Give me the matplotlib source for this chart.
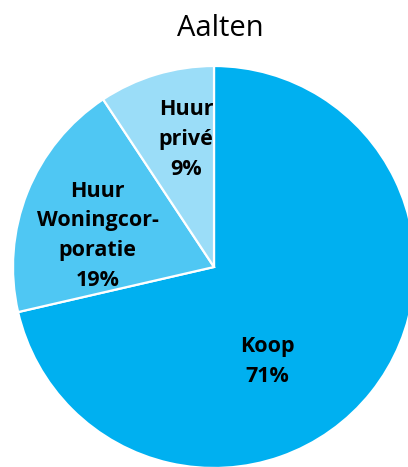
#!/usr/bin/env python3

import math
from matplotlib import pyplot as plt

# Woningvoorraad naar eigendom, gemeente Aalten (aandeel in %)
title = 'Aalten'
categories = ['Koop', 'Huur\nWoningcor-\nporatie', 'Huur\nprivé']
shares = [71.4, 19.3, 9.3]
colors = ['#00b0f0', '#4fc7f3', '#9bddf8']

# where each label sits: angle (deg) and fraction of the radius
label_pos = [(-60.4, 0.54), (165.0, 0.60), (102.4, 0.65)]

fig = plt.figure(figsize=(4.08, 4.67), dpi=100)
ax = fig.add_axes([0, 0, 1, 1])

cx, cy, r = 214, 200, 201
ax.pie(shares, colors=colors, startangle=90, counterclock=False,
       center=(cx, cy), radius=r, frame=False,
       wedgeprops=dict(edgecolor='white', linewidth=1.6))

for cat, val, (ang, dist) in zip(categories, shares, label_pos):
    x = cx + dist * r * math.cos(math.radians(ang))
    y = cy + dist * r * math.sin(math.radians(ang))
    ax.text(x, y, '%s\n%d%%' % (cat, round(val)), ha='center', va='center',
            fontsize=15.5, fontweight='bold', family='Open Sans',
            linespacing=1.55, color='black')

fig.text(0.54, 0.94, title, ha='center', va='center', fontsize=21,
         family='Open Sans', color='black')

ax.set_xlim(0, 408)
ax.set_ylim(0, 467)
ax.set_aspect('equal')
ax.axis('off')

fig.savefig('out.png', dpi=100)
